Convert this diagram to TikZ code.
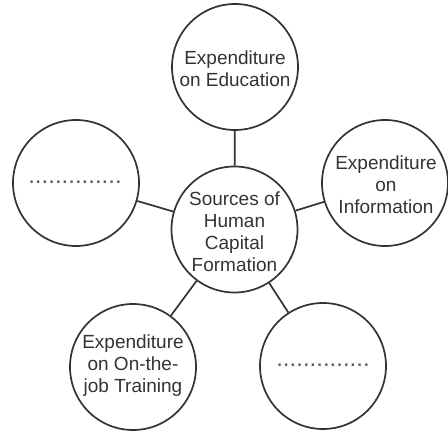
\documentclass[tikz,border=0pt]{standalone}
\usepackage{fontspec}
\setmainfont{Liberation Sans}
\definecolor{ink}{HTML}{333333}
\begin{document}
\begin{tikzpicture}[x=1pt,y=-1pt,
  bubble/.style={circle,draw=ink,line width=1.7pt,minimum size=126pt,inner sep=0pt},
  label text/.style={align=center,text=ink,inner sep=0pt,font=\fontsize{19}{22}\selectfont},
  link/.style={draw=ink,line width=1.7pt},
  dots/.style={text=ink!80,inner sep=0pt,font=\fontsize{24}{26}\selectfont}]
\useasboundingbox (0,0) rectangle (448,436);
\node[bubble] (c) at (234.5,229.5) {};
\node[bubble] (t) at (235,67) {};
\node[bubble] (r) at (385,183) {};
\node[bubble] (l) at (76,183) {};
\node[bubble] (bl) at (133,367) {};
\node[bubble] (br) at (323,366) {};
\node[label text] (ct) at (234.5,232) {Sources of\\Human\\Capital\\Formation};
\node[label text] (tt) at (235,69) {Expenditure\\on Education};
\node[label text] (rt) at (386,185) {Expenditure\\on\\Information};
\node[label text] (blt) at (133,366) {Expenditure\\on On-the-\\job Training};
\node[dots] (ld) at (75,182) {..............};
\node[dots] (brd) at (323,365) {..............};
\draw[link] (c) -- (t);
\draw[link] (c) -- (r);
\draw[link] (c) -- (l);
\draw[link] (c) -- (bl);
\draw[link] (c) -- (br);
\end{tikzpicture}
\end{document}
